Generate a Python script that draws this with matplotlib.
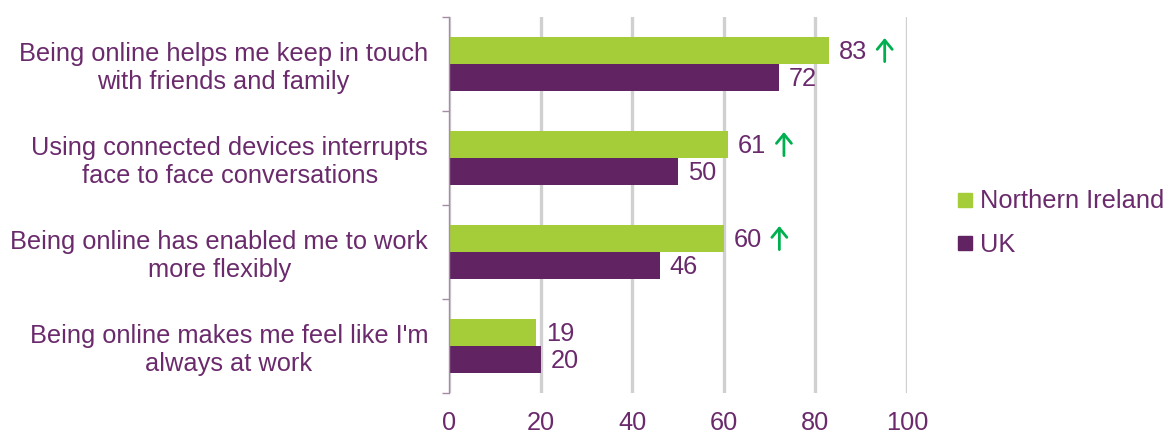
import numpy as np
import matplotlib
matplotlib.use("Agg")
import matplotlib.pyplot as plt
from matplotlib.lines import Line2D
from matplotlib.transforms import ScaledTranslation

statements = [
    "Being online helps me keep in touch\nwith friends and family",
    "Using connected devices interrupts\nface to face conversations",
    "Being online has enabled me to work\nmore flexibly",
    "Being online makes me feel like I'm\nalways at work",
]
northern_ireland = [83, 61, 60, 19]
uk = [72, 50, 46, 20]
# NI significantly higher than UK
ni_higher = [True, True, True, False]
x_ticks = [0, 20, 40, 60, 80, 100]

green = "#a5cd39"
purple = "#612361"
text_col = "#6a2a6c"
arrow_col = "#00b050"
grid_col = "#d0d0d0"
axis_col = "#a58ca5"
fs = 18.3

plt.rcParams["font.family"] = ["Liberation Sans", "DejaVu Sans"]

fig = plt.figure(figsize=(11.64, 4.34), dpi=100)
ax = fig.add_axes([449 / 1164, 1 - 393 / 434, (907 - 449) / 1164, (393 - 17) / 434])

y = np.arange(len(statements))
h = 0.287
ax.barh(y - h / 2, northern_ireland, height=h, color=green, zorder=3)
ax.barh(y + h / 2, uk, height=h, color=purple, zorder=3)


def shifted(dx, dy):
    # data coords moved by (dx, dy) points
    return ax.transData + ScaledTranslation(dx / 72, dy / 72, fig.dpi_scale_trans)


for i in range(len(statements)):
    ax.annotate(str(northern_ireland[i]), (northern_ireland[i], y[i] - h / 2),
                xytext=(7, -1), textcoords="offset points", va="center",
                ha="left", fontsize=fs, color=text_col)
    if ni_higher[i]:
        pos = (northern_ireland[i], y[i] - h / 2)
        ax.annotate("", xy=pos, xycoords=shifted(40, 9),
                    xytext=pos, textcoords=shifted(40, -8),
                    arrowprops=dict(arrowstyle="->, head_length=0.55, head_width=0.45",
                                    color=arrow_col, lw=2, shrinkA=0, shrinkB=0,
                                    mutation_scale=12))
    ax.annotate(str(uk[i]), (uk[i], y[i] + h / 2),
                xytext=(7, -1), textcoords="offset points", va="center",
                ha="left", fontsize=fs, color=text_col)

ax.set_xlim(0, 100)
ax.set_ylim(len(statements) - 0.5, -0.5)
ax.set_xticks(x_ticks)
ax.set_xticklabels([str(v) for v in x_ticks], fontsize=fs, color=text_col)
ax.tick_params(axis="x", length=0, pad=13)
ax.set_yticks(y)
ax.set_yticklabels(statements, fontsize=fs, color=text_col)
for lbl in ax.get_yticklabels():
    lbl.set_multialignment("center")
ax.tick_params(axis="y", which="major", length=0, pad=15)
ax.set_yticks(np.arange(-0.5, len(statements), 1), minor=True)
ax.tick_params(axis="y", which="minor", length=5, width=1, color=axis_col)

ax.grid(axis="x", color=grid_col, linewidth=2.4, zorder=0)
ax.set_axisbelow(True)
for side in ["top", "right", "bottom"]:
    ax.spines[side].set_visible(False)
ax.spines["left"].set_color(axis_col)
ax.spines["left"].set_linewidth(1)
ax.spines["left"].set_zorder(4)

handles = [
    Line2D([], [], marker="s", linestyle="none", markersize=9.5, color=green),
    Line2D([], [], marker="s", linestyle="none", markersize=9.5, color=purple),
]
fig.legend(handles, ["Northern Ireland", "UK"], loc="center left",
           bbox_to_anchor=(957 / 1164, 1 - 223 / 434), frameon=False,
           fontsize=fs, labelcolor=text_col, handlelength=0.6,
           handletextpad=0.3, labelspacing=0.75, borderpad=0, borderaxespad=0)

fig.savefig("out.png", dpi=100)
